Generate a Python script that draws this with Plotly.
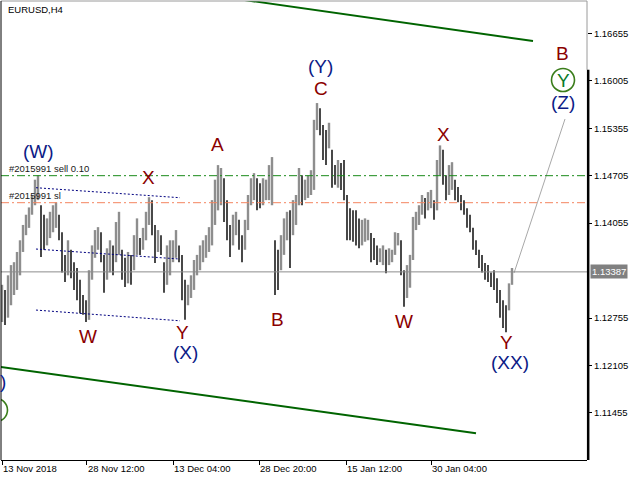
import plotly.graph_objects as go

# ---------------- data ----------------
symbol_title = "EURUSD,H4"

highs = [1.1321, 1.1314, 1.1334, 1.1348, 1.1352, 1.1366, 1.1382, 1.1403, 1.1417, 1.1427,
         1.1444, 1.1465, 1.1471, 1.1430, 1.1417, 1.1412, 1.1421, 1.1430, 1.1434, 1.1417,
         1.1393, 1.1362, 1.1382, 1.1369, 1.1352, 1.1344, 1.1328, 1.1307, 1.1300, 1.1341,
         1.1375, 1.1396, 1.1400, 1.1393, 1.1362, 1.1371, 1.1382, 1.1375, 1.1407, 1.1421,
         1.1369, 1.1358, 1.1366, 1.1362, 1.1389, 1.1412, 1.1385, 1.1399, 1.1421, 1.1441,
         1.1437, 1.1403, 1.1396, 1.1389, 1.1352, 1.1375, 1.1382, 1.1382, 1.1396, 1.1375,
         1.1362, 1.1328, 1.1321, 1.1334, 1.1355, 1.1362, 1.1375, 1.1382, 1.1389, 1.1400,
         1.1437, 1.1465, 1.1485, 1.1481, 1.1467, 1.1437, 1.1403, 1.1417, 1.1421, 1.1410,
         1.1389, 1.1410, 1.1444, 1.1467, 1.1474, 1.1467, 1.1460, 1.1467, 1.1465, 1.1485,
         1.1496, 1.1382, 1.1369, 1.1389, 1.1412, 1.1421, 1.1423, 1.1437, 1.1444, 1.1481,
         1.1471, 1.1465, 1.1471, 1.1478, 1.1547, 1.1570, 1.1563, 1.1540, 1.1533, 1.1543,
         1.1506, 1.1485, 1.1492, 1.1488, 1.1492, 1.1444, 1.1426, 1.1423, 1.1423, 1.1412,
         1.1410, 1.1412, 1.1410, 1.1392, 1.1385, 1.1375, 1.1371, 1.1375, 1.1369, 1.1371,
         1.1369, 1.1393, 1.1392, 1.1382, 1.1341, 1.1348, 1.1362, 1.1414, 1.1421, 1.1430,
         1.1444, 1.1440, 1.1448, 1.1451, 1.1437, 1.1492, 1.1512, 1.1506, 1.1471, 1.1485,
         1.1489, 1.1465, 1.1455, 1.1444, 1.1437, 1.1426, 1.1417, 1.1399, 1.1382, 1.1369,
         1.1362, 1.1351, 1.1348, 1.1338, 1.1341, 1.1330, 1.1314, 1.1300, 1.1293, 1.1323,
         1.1344]

lows = [1.1270, 1.1266, 1.1276, 1.1293, 1.1307, 1.1314, 1.1334, 1.1366, 1.1389, 1.1399,
        1.1417, 1.1430, 1.1437, 1.1359, 1.1369, 1.1375, 1.1385, 1.1393, 1.1399, 1.1382,
        1.1338, 1.1325, 1.1334, 1.1330, 1.1314, 1.1300, 1.1282, 1.1280, 1.1270, 1.1273,
        1.1328, 1.1358, 1.1369, 1.1352, 1.1310, 1.1328, 1.1338, 1.1334, 1.1352, 1.1362,
        1.1328, 1.1318, 1.1323, 1.1321, 1.1341, 1.1362, 1.1362, 1.1369, 1.1382, 1.1403,
        1.1389, 1.1351, 1.1366, 1.1362, 1.1310, 1.1321, 1.1334, 1.1352, 1.1358, 1.1352,
        1.1300, 1.1273, 1.1293, 1.1303, 1.1314, 1.1334, 1.1341, 1.1352, 1.1358, 1.1366,
        1.1375, 1.1403, 1.1423, 1.1430, 1.1407, 1.1382, 1.1359, 1.1375, 1.1389, 1.1369,
        1.1352, 1.1369, 1.1396, 1.1430, 1.1437, 1.1423, 1.1426, 1.1430, 1.1437, 1.1437,
        1.1430, 1.1307, 1.1314, 1.1341, 1.1362, 1.1382, 1.1344, 1.1389, 1.1403, 1.1430,
        1.1430, 1.1437, 1.1440, 1.1444, 1.1451, 1.1533, 1.1526, 1.1492, 1.1485, 1.1508,
        1.1454, 1.1458, 1.1454, 1.1451, 1.1437, 1.1382, 1.1382, 1.1380, 1.1375, 1.1371,
        1.1375, 1.1380, 1.1382, 1.1352, 1.1355, 1.1348, 1.1352, 1.1348, 1.1337, 1.1348,
        1.1352, 1.1362, 1.1375, 1.1334, 1.1291, 1.1303, 1.1317, 1.1355, 1.1396, 1.1403,
        1.1417, 1.1412, 1.1423, 1.1426, 1.1410, 1.1423, 1.1471, 1.1458, 1.1437, 1.1444,
        1.1451, 1.1437, 1.1434, 1.1423, 1.1417, 1.1399, 1.1393, 1.1369, 1.1362, 1.1344,
        1.1338, 1.1328, 1.1325, 1.1318, 1.1314, 1.1296, 1.1276, 1.1262, 1.1256, 1.1286,
        1.1321]

time_labels = ["13 Nov 2018", "28 Nov 12:00", "13 Dec 04:00", "28 Dec 20:00",
               "15 Jan 12:00", "30 Jan 04:00"]
time_label_bars = [0, 28.33, 57, 85.67, 114.67, 143]

price_ticks = [1.16655, 1.16005, 1.15355, 1.14705, 1.14055, 1.12755, 1.12105, 1.11455]
last_price = 1.13387
sell_price = 1.14705
sl_price = 1.14335
order_labels = ["#2015991 sell 0.10", "#2015991 sl"]

# wave labels: text, bar index, price, group
wave_labels = [
    ("(W)", 12.0, 1.15042, "minor"),
    ("X", 48.67, 1.14686, "sub"),
    ("W", 28.67, 1.12508, "sub"),
    ("Y", 60.33, 1.12563, "sub"),
    ("(X)", 61.0, 1.12289, "minor"),
    ("A", 71.67, 1.15138, "sub"),
    ("B", 91.67, 1.12741, "sub"),
    ("(Y)", 106.33, 1.16200, "minor"),
    ("C", 106.33, 1.15905, "sub"),
    ("X", 147.0, 1.15275, "sub"),
    ("W", 134.0, 1.12713, "sub"),
    ("Y", 168.33, 1.12426, "sub"),
    ("(XX)", 169.33, 1.12152, "minor"),
    ("B", 186.67, 1.16385, "sub"),
    ("(Z)", 187.0, 1.15714, "minor"),
    (")", 0.3, 1.11891, "minor"),
]
circled_labels = [("Y", 187.0, 1.16015)]
partial_circle = (-2.0, 1.11494)

upper_channel = ([76, 177], [1.17140, 1.16549])
lower_channel = ([-4, 158], [1.12106, 1.11175])
dotted_lines = [([11.33, 59.33], [1.14540, 1.14403]),
                ([11.33, 59.33], [1.13700, 1.13563]),
                ([11.33, 59.33], [1.12864, 1.12717])]
projection = ([170.67, 187.67], [1.13371, 1.15481])

# ---------------- figure ----------------
FONT = "Liberation Sans, Arial, sans-serif"
MAROON = "#8B0000"
NAVY = "#0c1a86"

up_x, up_y, dn_x, dn_y = [], [], [], []
prev_mid = None
for i, (h, l) in enumerate(zip(highs, lows)):
    mid = (h + l) / 2
    if prev_mid is None or mid >= prev_mid:
        up_x += [i, i, None]
        up_y += [l, h, None]
    else:
        dn_x += [i, i, None]
        dn_y += [l, h, None]
    prev_mid = mid

fig = go.Figure()
fig.add_trace(go.Scatter(x=up_x, y=up_y, mode="lines", line=dict(color="#8e8e8e", width=2.4),
                         hoverinfo="skip", showlegend=False))
fig.add_trace(go.Scatter(x=dn_x, y=dn_y, mode="lines", line=dict(color="#353535", width=1.8),
                         hoverinfo="skip", showlegend=False))

# channel lines
for xs, ys in (upper_channel, lower_channel):
    fig.add_trace(go.Scatter(x=xs, y=ys, mode="lines", line=dict(color="#006400", width=2),
                             hoverinfo="skip", showlegend=False, cliponaxis=True))
for xs, ys in dotted_lines:
    fig.add_trace(go.Scatter(x=xs, y=ys, mode="lines",
                             line=dict(color="#000080", width=1, dash="2px,2px"),
                             hoverinfo="skip", showlegend=False))
fig.add_trace(go.Scatter(x=projection[0], y=projection[1], mode="lines",
                         line=dict(color="#a8a8a8", width=1), hoverinfo="skip", showlegend=False))

shapes = []
# horizontal order lines
shapes.append(dict(type="line", xref="paper", x0=0, x1=1, yref="y", y0=sell_price, y1=sell_price,
                   line=dict(color="#1a8a1a", width=1, dash="8px,3px,2px,3px")))
shapes.append(dict(type="line", xref="paper", x0=0, x1=1, yref="y", y0=sl_price, y1=sl_price,
                   line=dict(color="#f4845f", width=1, dash="8px,3px,2px,3px")))
shapes.append(dict(type="line", xref="paper", x0=0, x1=1, yref="y", y0=last_price, y1=last_price,
                   line=dict(color="#8c8c8c", width=1)))
# circles
for txt, xi, yp in circled_labels:
    shapes.append(dict(type="circle", xref="x", yref="y", xsizemode="pixel", ysizemode="pixel",
                       xanchor=xi, yanchor=yp, x0=-11.5, x1=11.5, y0=-11.5, y1=11.5,
                       line=dict(color="#3a7d1a", width=1.6)))
shapes.append(dict(type="circle", xref="x", yref="y", xsizemode="pixel", ysizemode="pixel",
                   xanchor=partial_circle[0], yanchor=partial_circle[1], x0=-11.5, x1=11.5,
                   y0=-11.5, y1=11.5, line=dict(color="#3a7d1a", width=1.6)))
# frame
shapes.append(dict(type="line", xref="paper", yref="paper", x0=0, x1=1, y0=1, y1=1,
                   line=dict(color="#9a9a9a", width=1)))
shapes.append(dict(type="line", xref="paper", yref="paper", x0=0, x1=0, y0=0, y1=1,
                   line=dict(color="#000000", width=1)))
shapes.append(dict(type="line", xref="paper", yref="paper", x0=1, x1=1, y0=0.85, y1=1,
                   line=dict(color="#9a9a9a", width=1)))
shapes.append(dict(type="line", xref="paper", yref="paper", x0=1.002, x1=1.002, y0=0, y1=0.85,
                   line=dict(color="#000000", width=2.5)))

annotations = []
for txt, xi, yp, grp in wave_labels:
    annotations.append(dict(x=xi, y=yp, xref="x", yref="y", text=txt, showarrow=False,
                            font=dict(family=FONT, size=19, color=MAROON if grp == "sub" else NAVY),
                            xanchor="center", yanchor="middle", borderpad=0))
for txt, xi, yp in circled_labels:
    annotations.append(dict(x=xi, y=yp, xref="x", yref="y", text=txt, showarrow=False,
                            font=dict(family=FONT, size=19, color="#0a7a2a"),
                            xanchor="center", yanchor="middle", borderpad=0))
annotations.append(dict(x=1.67, y=sell_price, xref="x", yref="y", text=order_labels[0],
                        showarrow=False, xanchor="left", yanchor="bottom", yshift=0,
                        font=dict(family=FONT, size=9.5, color="#202020")))
annotations.append(dict(x=1.67, y=sl_price, xref="x", yref="y", text=order_labels[1],
                        showarrow=False, xanchor="left", yanchor="bottom", yshift=0,
                        font=dict(family=FONT, size=9.5, color="#202020")))
annotations.append(dict(x=0.0085, y=0.981, xref="paper", yref="paper", text=symbol_title,
                        showarrow=False, xanchor="left", yanchor="middle",
                        font=dict(family=FONT, size=9.5, color="#000000")))
annotations.append(dict(x=1, y=last_price, xref="paper", yref="y", text=f"{last_price:.5f}",
                        showarrow=False, xanchor="left", yanchor="middle", xshift=3,
                        bgcolor="#808080", borderpad=1,
                        font=dict(family=FONT, size=9.5, color="#ffffff")))

fig.update_layout(
    width=640, height=480,
    margin=dict(l=1, r=53, t=1, b=20),
    paper_bgcolor="white", plot_bgcolor="white",
    shapes=shapes, annotations=annotations,
    xaxis=dict(range=[-0.333, 195], showgrid=False, zeroline=False,
               tickvals=time_label_bars, ticktext=time_labels,
               ticks="outside", ticklen=4, tickcolor="#000000",
               ticklabelposition="outside right",
               tickfont=dict(family=FONT, size=9.5, color="#000000"),
               showline=True, linecolor="#000000", linewidth=1, fixedrange=True),
    yaxis=dict(range=[1.10810, 1.17098], side="right", showgrid=False, zeroline=False,
               tickvals=price_ticks, ticktext=[f"{p:.5f}" for p in price_ticks],
               ticks="outside", ticklen=4, tickcolor="#000000",
               tickfont=dict(family=FONT, size=9.5, color="#000000"),
               showline=False, fixedrange=True),
    showlegend=False,
)

fig.write_html("out.html", config={"displayModeBar": False},
               post_script="document.body.style.margin='0px';document.body.style.overflow='hidden';")
